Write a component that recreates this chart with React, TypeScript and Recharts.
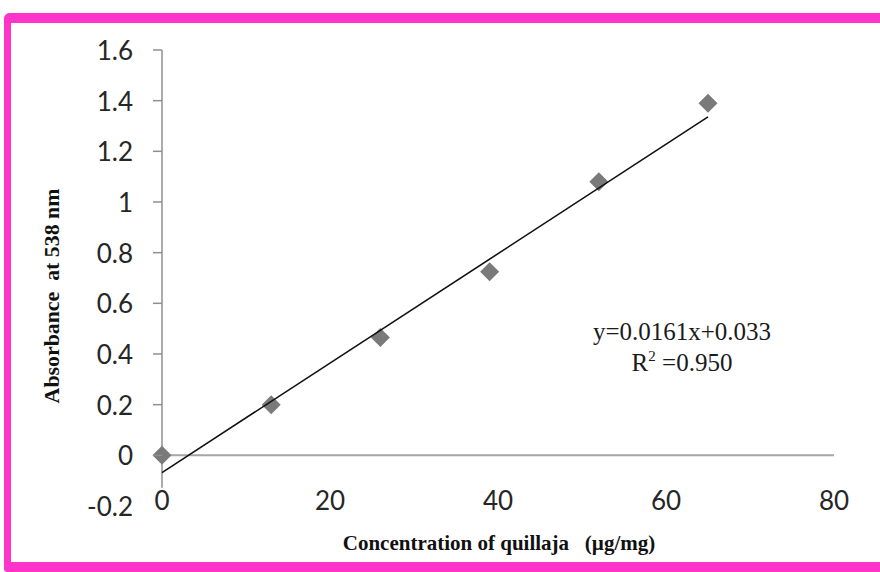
import { ScatterChart, Scatter, XAxis, YAxis, ReferenceLine } from "recharts";

const concentration = [0, 13, 26, 39, 52, 65];
const absorbance = [0, 0.2, 0.465, 0.725, 1.08, 1.39];

// trendline end points as drawn in the figure
const trendX = [0, 65];
const trendY = [-0.068, 1.336];

const xTicks = [0, 20, 40, 60, 80];
const yTicks = [-0.2, 0, 0.2, 0.4, 0.6, 0.8, 1, 1.2, 1.4, 1.6];

const points = concentration.map((x, i) => ({ x, y: absorbance[i] }));
const trend = trendX.map((x, i) => ({ x, y: trendY[i] }));

const pink = "#ff35c9";
const axisGray = "#8f8f8f";
const tickFont = { fontFamily: "Lato, 'Open Sans', sans-serif", fontSize: 26, fill: "#262626" };

function Diamond({ cx, cy }: any) {
  const r = 9.5;
  return (
    <polygon
      points={`${cx},${cy - r} ${cx + r},${cy} ${cx},${cy + r} ${cx - r},${cy}`}
      fill="#7a7a7a"
    />
  );
}

function YTick({ x, y, payload }: any) {
  return (
    <g>
      {payload.value !== -0.2 && <line x1={x - 9} x2={x} y1={y} y2={y} stroke={axisGray} strokeWidth={1.5} />}
      <text x={x - 29} y={y} textAnchor="end" dominantBaseline="central" style={tickFont}>
        {payload.value}
      </text>
    </g>
  );
}

function XTick({ x, y, payload }: any) {
  return (
    <text x={x} y={y - 6} textAnchor="middle" dominantBaseline="central" style={tickFont}>
      {payload.value}
    </text>
  );
}

export default function App() {
  return (
    <div style={{ position: "fixed", left: 0, top: 0, width: 880, height: 572, background: "#fff", overflow: "hidden" }}>
      <div
        style={{
          position: "absolute",
          left: 4,
          top: 13,
          width: 900,
          height: 559,
          boxSizing: "border-box",
          borderStyle: "solid",
          borderColor: pink,
          borderWidth: "10px 0 10px 7px",
          borderTopLeftRadius: 6,
          borderBottomLeftRadius: 4,
        }}
      />
      <div style={{ position: "absolute", left: 0, top: 0 }}>
        <ScatterChart width={880} height={572} margin={{ top: 50, right: 46, bottom: 36, left: 102 }}>
          <XAxis
            type="number"
            dataKey="x"
            domain={[0, 80]}
            ticks={xTicks}
            axisLine={false}
            tickLine={false}
            tickSize={0}
            tickMargin={0}
            height={30}
            tick={<XTick />}
          />
          <YAxis
            type="number"
            dataKey="y"
            domain={[-0.2, 1.6]}
            ticks={yTicks}
            axisLine={false}
            tickLine={false}
            tickSize={0}
            tickMargin={0}
            width={60}
            tick={<YTick />}
            allowDataOverflow
          />
          <ReferenceLine y={0} stroke="#a6a6a6" strokeWidth={2} />
          <ReferenceLine
            segment={[
              { x: 0, y: -0.128 },
              { x: 0, y: 1.6 },
            ]}
            stroke={axisGray}
            strokeWidth={1.5}
          />
          <Scatter data={points} shape={<Diamond />} isAnimationActive={false} />
          <Scatter
            data={trend}
            line={{ stroke: "#111", strokeWidth: 1.6 }}
            shape={() => <g />}
            isAnimationActive={false}
          />
        </ScatterChart>
      </div>
      <div
        style={{
          position: "absolute",
          left: 52,
          top: 296,
          transform: "translate(-50%, -50%) rotate(-90deg) scaleX(1.04)",
          whiteSpace: "pre",
          fontFamily: "'Liberation Serif', 'Times New Roman', serif",
          fontWeight: "bold",
          fontSize: 21,
          color: "#111",
        }}
      >
        {"Absorbance  at 538 nm"}
      </div>
      <div
        style={{
          position: "absolute",
          left: 499,
          top: 543,
          transform: "translate(-50%, -50%)",
          whiteSpace: "pre",
          fontFamily: "'Liberation Serif', 'Times New Roman', serif",
          fontWeight: "bold",
          fontSize: 21,
          color: "#111",
        }}
      >
        {"Concentration of quillaja   (µg/mg)"}
      </div>
      <div
        style={{
          position: "absolute",
          left: 682,
          top: 347,
          transform: "translate(-50%, -50%)",
          textAlign: "center",
          whiteSpace: "pre",
          fontFamily: "'Liberation Serif', 'Times New Roman', serif",
          fontSize: 25,
          lineHeight: "31px",
          color: "#1a1a1a",
        }}
      >
        <div>y=0.0161x+0.033</div>
        <div>
          R<sup style={{ fontSize: 15, verticalAlign: "10px", lineHeight: 0 }}>2</sup> =0.950
        </div>
      </div>
    </div>
  );
}
